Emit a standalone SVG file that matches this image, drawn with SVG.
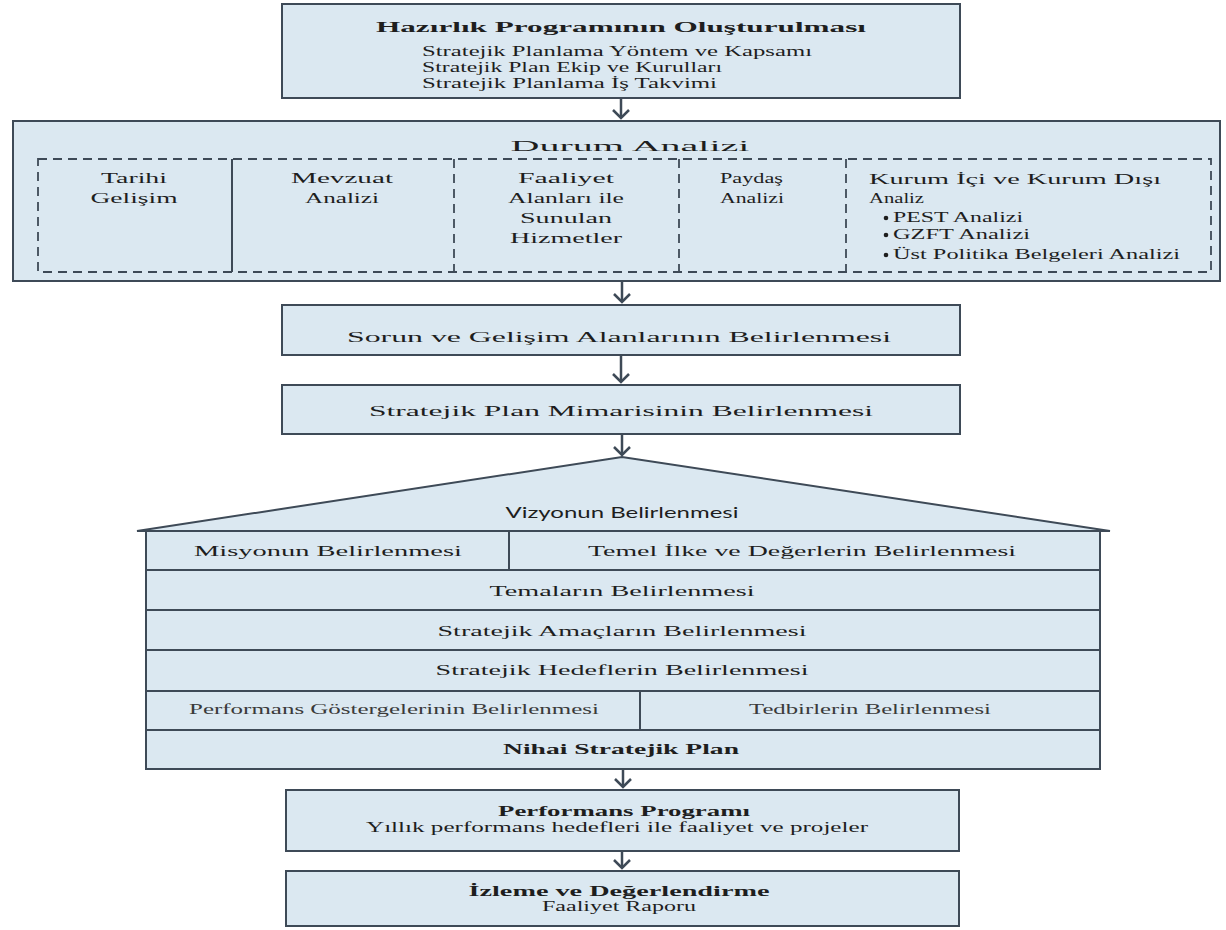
<svg xmlns="http://www.w3.org/2000/svg" width="1226" height="930" viewBox="0 0 1226 930">
<defs>
<style>
.box{fill:#dbe8f1;stroke:#3e4a57;stroke-width:2}
.ln{stroke:#3e4a57;stroke-width:2;fill:none}
.dash{fill:none;stroke:#3e4a57;stroke-width:1.8;stroke-dasharray:9 6}
.t{font-family:"Liberation Serif","DejaVu Serif",serif;fill:#1e1e1e;font-size:15px}
.s{font-family:Lato,"Liberation Sans",sans-serif;fill:#1e1e1e;font-size:15px}
.c{text-anchor:middle}
.b{font-weight:bold}
.g{fill:#3a3a3a}
.conn{stroke:#3e4a57;stroke-width:2.5;fill:none;marker-end:url(#ah)}
</style>
<marker id="ah" viewBox="-10 -10 12 20" refX="0" refY="0" markerWidth="12" markerHeight="20" markerUnits="userSpaceOnUse" orient="auto">
<path d="M-8,-8 L0,0 L-8,8" fill="none" stroke="#3e4a57" stroke-width="2.5"/>
</marker>
</defs>
<rect width="1226" height="930" fill="#ffffff"/>

<g id="hazirlik">
<rect class="box" x="282" y="4" width="678" height="94"/>
<text class="t b c" x="621" y="32" font-size="20" textLength="490" lengthAdjust="spacingAndGlyphs">Hazırlık Programının Oluşturulması</text>
<text class="t" x="422" y="56" font-size="14" textLength="390" lengthAdjust="spacingAndGlyphs">Stratejik Planlama Yöntem ve Kapsamı</text>
<text class="t" x="422" y="72" font-size="14" textLength="300" lengthAdjust="spacingAndGlyphs">Stratejik Plan Ekip ve Kurulları</text>
<text class="t" x="422" y="88" font-size="14" textLength="295" lengthAdjust="spacingAndGlyphs">Stratejik Planlama İş Takvimi</text>
</g>

<g id="durum">
<rect class="box" x="13" y="121" width="1207" height="160"/>
<text class="t c" x="630" y="151" font-size="24" textLength="239" lengthAdjust="spacingAndGlyphs">Durum Analizi</text>
<rect class="dash" x="38" y="159" width="1173" height="113"/>
<line class="ln" x1="232" y1="159" x2="232" y2="272"/>
<line class="dash" x1="454" y1="159" x2="454" y2="272"/>
<line class="dash" x1="679" y1="159" x2="679" y2="272"/>
<line class="dash" x1="846" y1="159" x2="846" y2="272"/>
<g id="tarihi">
<text class="t c" x="134" y="183" textLength="66" lengthAdjust="spacingAndGlyphs">Tarihi</text>
<text class="t c" x="134" y="203" textLength="87" lengthAdjust="spacingAndGlyphs">Gelişim</text>
</g>
<g id="mevzuat">
<text class="t c" x="342" y="183" textLength="102" lengthAdjust="spacingAndGlyphs">Mevzuat</text>
<text class="t c" x="342" y="203" textLength="74" lengthAdjust="spacingAndGlyphs">Analizi</text>
</g>
<g id="faaliyet">
<text class="t c" x="566" y="183" textLength="96" lengthAdjust="spacingAndGlyphs">Faaliyet</text>
<text class="t c" x="566" y="203" textLength="116" lengthAdjust="spacingAndGlyphs">Alanları ile</text>
<text class="t c" x="566" y="223" textLength="92" lengthAdjust="spacingAndGlyphs">Sunulan</text>
<text class="t c" x="566" y="243" textLength="112" lengthAdjust="spacingAndGlyphs">Hizmetler</text>
</g>
<g id="paydas">
<text class="t" x="720" y="183" textLength="63" lengthAdjust="spacingAndGlyphs">Paydaş</text>
<text class="t" x="720" y="203" textLength="64" lengthAdjust="spacingAndGlyphs">Analizi</text>
</g>
<g id="kurum">
<text class="t" x="869" y="184" textLength="292" lengthAdjust="spacingAndGlyphs">Kurum İçi ve Kurum Dışı</text>
<text class="t" x="869" y="203" textLength="55" lengthAdjust="spacingAndGlyphs">Analiz</text>
<circle cx="886" cy="218" r="2.3" fill="#1e1e1e"/>
<circle cx="886" cy="235" r="2.3" fill="#1e1e1e"/>
<circle cx="886" cy="255" r="2.3" fill="#1e1e1e"/>
<text class="t" x="893" y="222" font-size="14" textLength="130" lengthAdjust="spacingAndGlyphs">PEST Analizi</text>
<text class="t" x="893" y="239" font-size="14" textLength="137" lengthAdjust="spacingAndGlyphs">GZFT Analizi</text>
<text class="t" x="893" y="259" font-size="14" textLength="287" lengthAdjust="spacingAndGlyphs">Üst Politika Belgeleri Analizi</text>
</g>
</g>

<g id="sorun">
<rect class="box" x="282" y="305" width="678" height="50"/>
<text class="t c" x="619" y="342" font-size="19" textLength="544" lengthAdjust="spacingAndGlyphs">Sorun ve Gelişim Alanlarının Belirlenmesi</text>
</g>

<g id="mimari">
<rect class="box" x="282" y="385" width="678" height="49"/>
<text class="t c" x="621" y="416" font-size="19" textLength="504" lengthAdjust="spacingAndGlyphs">Stratejik Plan Mimarisinin Belirlenmesi</text>
</g>

<g id="plan">
<polygon class="box" points="137,531 622,457 1110,531"/>
<rect class="box" x="146" y="531" width="954" height="238"/>
<line class="ln" x1="146" y1="570" x2="1100" y2="570"/>
<line class="ln" x1="146" y1="610" x2="1100" y2="610"/>
<line class="ln" x1="146" y1="650" x2="1100" y2="650"/>
<line class="ln" x1="146" y1="691" x2="1100" y2="691"/>
<line class="ln" x1="146" y1="730" x2="1100" y2="730"/>
<line class="ln" x1="509" y1="531" x2="509" y2="570"/>
<line class="ln" x1="640" y1="691" x2="640" y2="730"/>
<text id="vizyon" class="s c" x="622" y="518" font-size="16" textLength="233" lengthAdjust="spacingAndGlyphs">Vizyonun Belirlenmesi</text>
<text id="misyon" class="t c" x="328" y="556" font-size="16" textLength="268" lengthAdjust="spacingAndGlyphs">Misyonun Belirlenmesi</text>
<text id="temel" class="t c" x="802" y="556" font-size="16" textLength="428" lengthAdjust="spacingAndGlyphs">Temel İlke ve Değerlerin Belirlenmesi</text>
<text id="tema" class="t c" x="622" y="596" font-size="16" textLength="265" lengthAdjust="spacingAndGlyphs">Temaların Belirlenmesi</text>
<text id="amac" class="t c" x="622" y="636" font-size="16" textLength="369" lengthAdjust="spacingAndGlyphs">Stratejik Amaçların Belirlenmesi</text>
<text id="hedef" class="t c" x="622" y="675" font-size="16" textLength="373" lengthAdjust="spacingAndGlyphs">Stratejik Hedeflerin Belirlenmesi</text>
<text id="gosterge" class="t c g" x="394" y="714" font-size="14" textLength="410" lengthAdjust="spacingAndGlyphs">Performans Göstergelerinin Belirlenmesi</text>
<text id="tedbir" class="t c g" x="870" y="714" font-size="14" textLength="242" lengthAdjust="spacingAndGlyphs">Tedbirlerin Belirlenmesi</text>
<text id="nihai" class="t c b" x="621" y="754" font-size="16" textLength="236" lengthAdjust="spacingAndGlyphs">Nihai Stratejik Plan</text>
</g>

<g id="performans">
<rect class="box" x="286" y="790" width="673" height="61"/>
<text class="t c b" x="624" y="816" font-size="15" textLength="252" lengthAdjust="spacingAndGlyphs">Performans Programı</text>
<text class="t c" x="617" y="832" font-size="14" textLength="502" lengthAdjust="spacingAndGlyphs">Yıllık performans hedefleri ile faaliyet ve projeler</text>
</g>

<g id="izleme">
<rect class="box" x="286" y="871" width="673" height="55"/>
<text class="t c b" x="619" y="896" font-size="17" textLength="301" lengthAdjust="spacingAndGlyphs">İzleme ve Değerlendirme</text>
<text class="t c" x="619" y="911" font-size="14" textLength="154" lengthAdjust="spacingAndGlyphs">Faaliyet Raporu</text>
</g>

<g id="connectors">
<line class="conn" x1="621" y1="99" x2="621" y2="118"/>
<line class="conn" x1="622" y1="282" x2="622" y2="302"/>
<line class="conn" x1="621" y1="356" x2="621" y2="382"/>
<line class="conn" x1="622" y1="435" x2="622" y2="455"/>
<line class="conn" x1="623" y1="770" x2="623" y2="787"/>
<line class="conn" x1="622" y1="852" x2="622" y2="868"/>
</g>
</svg>
